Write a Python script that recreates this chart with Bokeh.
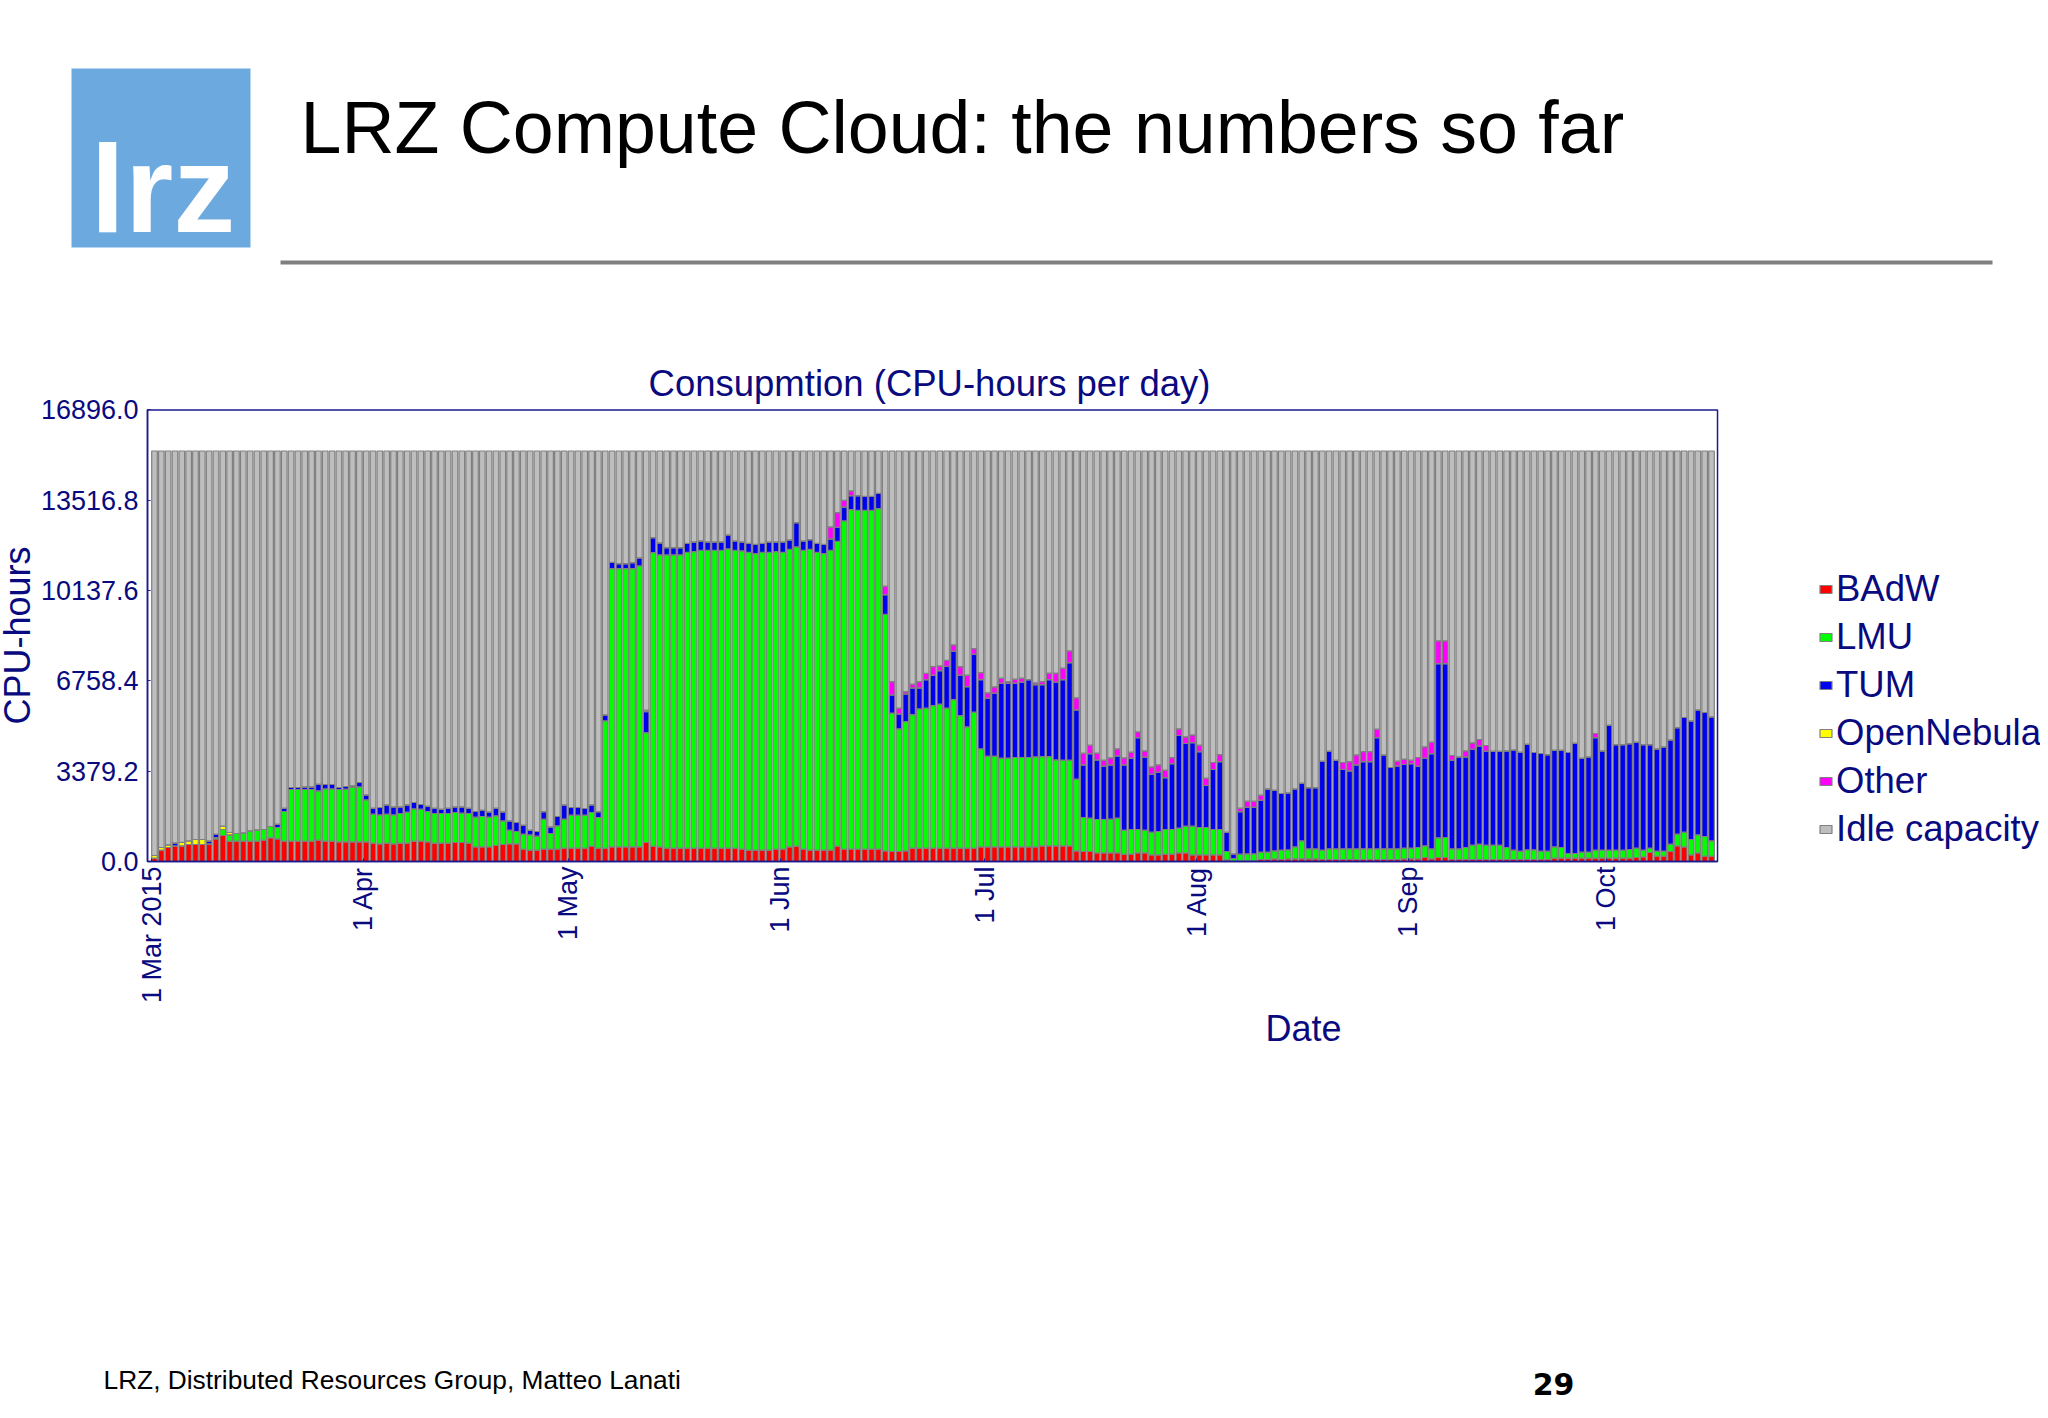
import math
from bokeh.plotting import figure
from bokeh.core.properties import value
from bokeh.models import ColumnDataSource, FixedTicker, Legend, LegendItem, NumeralTickFormatter, Range1d
from bokeh.embed import file_html
from bokeh.resources import INLINE

badw = [125,424,524,586,586,636,636,636,661,848,
973,761,761,761,761,761,798,885,848,761,
761,761,761,761,798,761,761,736,736,736,
736,736,686,661,686,661,686,686,761,761,
736,686,686,686,711,711,686,549,549,549,
599,636,661,661,461,424,424,461,461,461,
499,499,499,499,574,499,499,549,549,549,
549,549,711,574,549,499,499,499,499,499,
499,499,499,499,499,499,461,424,424,424,
424,461,461,549,574,461,424,424,424,424,
574,461,461,461,461,461,461,399,374,374,
399,499,499,499,499,499,499,499,499,499,
499,549,549,549,549,549,549,549,549,549,
586,586,586,586,586,399,374,374,324,324,
324,324,274,274,324,324,249,249,274,274,
324,324,249,249,249,249,249,62,12,25,
25,25,75,75,100,75,100,100,100,100,
100,75,75,75,75,75,75,75,75,75,
75,75,75,100,100,100,150,100,150,150,
75,75,75,75,75,75,75,75,75,75,
75,75,75,75,75,125,125,125,125,125,
125,125,125,125,125,125,125,150,175,337,
200,200,374,586,549,249,324,200,200]

lmu = [0,0,0,0,0,0,0,0,0,50,
224,237,287,312,387,424,399,424,424,1110,
1933,1933,1933,1933,1846,1958,1958,1958,1970,2033,
2058,1571,1085,1085,1085,1085,1110,1160,1210,1197,
1135,1110,1110,1110,1122,1097,1110,1110,1135,1110,
1110,885,511,461,561,574,524,1122,586,873,
1085,1235,1235,1235,1259,1147,4764,10412,10412,10412,
10412,10512,4115,10986,10924,10974,10974,10974,11073,11098,
11148,11148,11148,11148,11198,11148,11161,11148,11098,11148,
11148,11136,11111,11136,11198,11186,11260,11148,11098,11223,
11410,12283,12707,12682,12682,12682,12744,8854,5175,4589,
4838,5000,5212,5237,5337,5387,5237,5562,4963,4539,
5088,3666,3392,3392,3317,3317,3342,3342,3342,3367,
3342,3342,3217,3205,3205,2681,1272,1247,1247,1247,
1259,1297,898,923,873,848,848,873,923,923,
923,998,1072,1023,1023,948,948,312,100,249,
262,262,274,274,299,349,337,449,673,374,
374,349,399,399,399,399,399,399,399,399,
399,399,399,399,399,424,436,374,736,748,
399,399,449,536,574,536,536,536,449,349,
312,362,362,312,312,424,399,175,175,224,
224,299,299,299,299,299,324,349,249,162,
187,187,274,436,549,574,673,736,574]

tum = [0,0,0,112,0,0,0,0,112,125,
0,0,0,0,0,0,0,0,125,125,
75,75,100,100,249,162,162,75,100,62,
162,187,224,274,349,299,249,274,237,175,
200,200,162,200,212,237,200,212,237,200,
287,337,349,337,340,175,175,287,249,349,
536,287,287,249,287,224,224,237,187,187,
224,299,786,561,449,274,274,274,337,362,
349,312,312,312,524,349,337,337,349,337,
387,362,387,349,910,349,362,337,349,424,
524,524,524,549,524,524,574,736,686,561,
1035,998,786,1072,1135,1259,1571,1808,1509,1509,
2170,2594,2170,2357,2806,2806,2781,2818,2918,2706,
2694,2881,2906,3018,3654,2594,1970,2419,2232,1995,
2033,2332,2444,2669,3442,2731,2170,2220,1945,2469,
3467,3093,3130,2843,1571,2245,2544,723,175,1596,
1746,1746,1945,2369,2270,2120,2132,2170,2157,2294,
2294,3330,3654,3317,2968,2918,3142,3267,3267,4165,
3517,3043,3105,3130,3167,3043,3280,3566,6522,6509,
3317,3442,3392,3591,3679,3517,3517,3517,3616,3753,
3704,3953,3641,3654,3616,3616,3641,3778,4128,3517,
3566,4215,3716,4676,3953,3953,3965,3965,3953,3878,
3828,3903,3903,3990,4290,4439,4676,4639,4639]

opennebula = [100,100,100,0,130,137,187,187,0,0,125,87] + [0]*60 + [50] + [0]*156

other = [0]*99 + [449,
549,249,175,0,0,0,0,312,499,212,
87,137,237,237,324,175,224,237,324,424,
212,262,200,237,187,62,150,150,0,62,
112,237,337,424,436,449,436,312,249,224,
262,262,262,224,212,237,274,274,274,224,
249,249,287,237,274,262,262,0,0,125,
224,224,187,0,0,0,0,0,0,0,
0,0,0,0,262,349,374,374,374,312,
0,0,175,200,125,324,424,424,848,848,
175,0,224,237,237,212,0,0,0,0,
0,0,0,0,0,0,0,0,0,0,
0,150,0,0,0,0,0,0,0,0,
0,0,0,0,0,0,0,0,0]

capacity = 15360
series_names = ["BAdW", "LMU", "TUM", "OpenNebula", "Other", "Idle capacity"]
series_colors = ["#FF0000", "#00FF00", "#0000F0", "#FFFF00", "#FF00FF", "#BEBEBE"]
y_ticks = [0.0, 3379.2, 6758.4, 10137.6, 13516.8, 16896.0]
x_tick_days = [0, 31, 61, 92, 122, 153, 184, 213]
x_tick_labels = ["1 Mar 2015", "1 Apr", "1 May", "1 Jun", "1 Jul", "1 Aug", "1 Sep", "1 Oct"]

FONT = "Liberation Sans"
NAVY = "#0A0A80"
EDGE = "#1A1A90"
W, H = 2040, 1410
X0, DX = 154, 6.829     # pixel of first bar, pixels per day
Y0, DY = 861, 37.42     # pixel of zero, CPU-hours per pixel
XL, XR = -1.025, 228.88  # plot box in days
YT = 16896

days = list(range(len(badw)))
idle = [capacity - (a + b + c + d + e) for a, b, c, d, e in zip(badw, lmu, tum, opennebula, other)]
source = ColumnDataSource({"day": days, "BAdW": badw, "LMU": lmu, "TUM": tum,
                           "OpenNebula": opennebula, "Other": other, "Idle capacity": idle})

p = figure(width=W, height=H, output_backend="svg", toolbar_location=None,
           x_range=Range1d(-X0 / DX, (W - X0) / DX),
           y_range=Range1d((Y0 - H) * DY, Y0 * DY),
           min_border=0, outline_line_color=None, margin=(0, 0, 0, 0))
p.extra_x_ranges = {"px": Range1d(0, W)}
p.extra_y_ranges = {"px": Range1d(H, 0)}
p.grid.visible = False

stack = p.vbar_stack(series_names, x="day", width=0.82, source=source, color=series_colors,
                     line_color="#808080", line_width=1.2)

# plot box
p.quad(left=[XL], right=[XR], bottom=[0], top=[YT], fill_color=None, line_color=EDGE, line_width=1.5)

p.xaxis.fixed_location = 0
p.yaxis.fixed_location = XL
p.xaxis.bounds = (XL, XR)
p.yaxis.bounds = (0, YT)
p.yaxis.ticker = FixedTicker(ticks=y_ticks)
p.yaxis.formatter = NumeralTickFormatter(format="0.0")
tick_positions = [d - 0.4 for d in x_tick_days]
p.xaxis.ticker = FixedTicker(ticks=tick_positions)
p.xaxis.major_label_overrides = dict(zip(tick_positions, x_tick_labels))
p.xaxis.major_label_orientation = math.pi / 2
for ax in (p.xaxis[0], p.yaxis[0]):
    ax.axis_line_color = EDGE
    ax.axis_line_width = 1.5
    ax.major_tick_line_color = EDGE
    ax.major_tick_in = 3
    ax.major_tick_out = 0
    ax.minor_tick_line_color = None
    ax.major_label_text_font = FONT
    ax.major_label_text_font_size = "27px"
    ax.major_label_text_color = NAVY
    ax.major_label_standoff = 5
p.yaxis.major_label_standoff = 9
p.yaxis.axis_label = "CPU-hours"
p.yaxis.axis_label_text_font = FONT
p.yaxis.axis_label_text_font_size = "36px"
p.yaxis.axis_label_text_font_style = "normal"
p.yaxis.axis_label_text_color = NAVY
p.yaxis.axis_label_standoff = 0


def px_text(x, y, text, size, color=NAVY, font=FONT, style="normal", align="left", baseline="middle"):
    p.text(x=[x], y=[y], text=[text], text_color=color, text_font=value(font), text_font_style=style,
           text_font_size=size, text_align=align, text_baseline=baseline,
           x_range_name="px", y_range_name="px")


# slide furniture
p.quad(left=[71], right=[250], top=[68], bottom=[247], fill_color="#6CA9DF", line_color=None,
       x_range_name="px", y_range_name="px")
px_text(90, 188, "lrz", "124px", color="white", style="bold", baseline="alphabetic")
px_text(300, 127, "LRZ Compute Cloud: the numbers so far", "73.5px", color="black")
p.segment(x0=[280], x1=[1992], y0=[262], y1=[262], line_color="#7F7F7F", line_width=4,
          x_range_name="px", y_range_name="px")
px_text(929, 383, "Consupmtion (CPU-hours per day)", "36.5px", align="center")
px_text(1303, 1028, "Date", "36px", align="center")
px_text(103, 1379, "LRZ, Distributed Resources Group, Matteo Lanati", "26.3px", color="black")
px_text(1553, 1383, "29", "30px", color="black", font="DejaVu Sans", style="bold", align="center")

legend = Legend(items=[LegendItem(label=n, renderers=[r]) for n, r in zip(series_names, stack)],
                location=(1818, 560), orientation="vertical", background_fill_alpha=0,
                border_line_color=None, padding=0, margin=0, spacing=6,
                glyph_width=15, glyph_height=10, label_standoff=3,
                label_text_font=FONT, label_text_font_size="36.5px", label_text_color=NAVY)
p.add_layout(legend, "center")

open("out.html", "w").write(file_html(p, INLINE))
